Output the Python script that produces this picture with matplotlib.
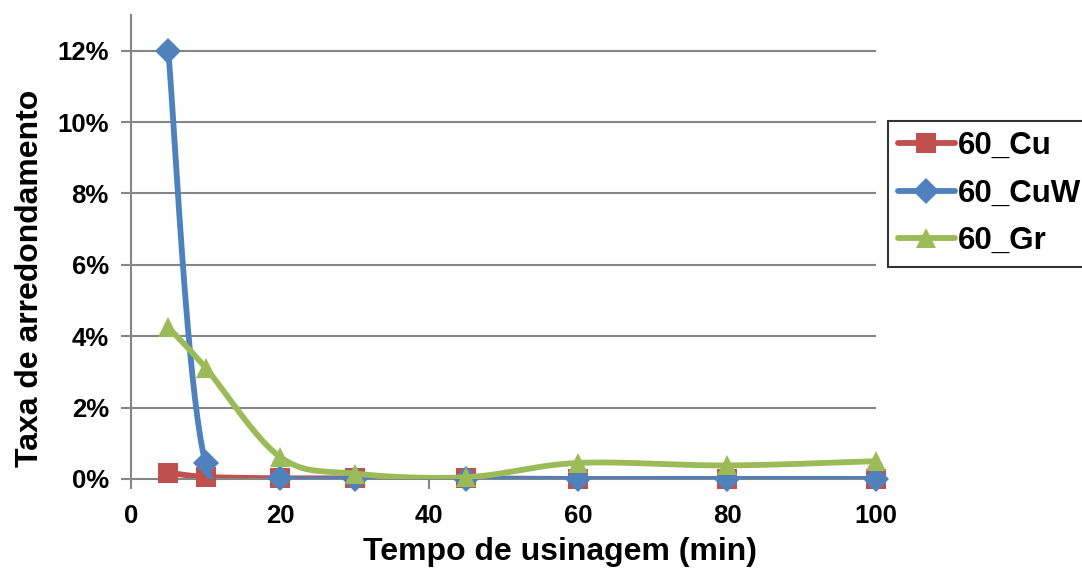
import numpy as np
import matplotlib
matplotlib.use("Agg")
import matplotlib.pyplot as plt
from matplotlib.ticker import FuncFormatter

plt.rcParams['font.family'] = ['Liberation Sans', 'DejaVu Sans']
plt.rcParams['font.weight'] = 'bold'

tempo = [5, 10, 20, 30, 45, 60, 80, 100]
cu = [0.0018, 0.0006, 0.0002, 0.0002, 0.0002, 0.0, 0.0, 0.0]
cuw = [0.120, 0.0045, 0.0002, 0.0, 0.0, 0.0, 0.0, 0.0]
gr = [0.0425, 0.0312, 0.0062, 0.0015, 0.0005, 0.0045, 0.0038, 0.0050]

series = [
    ("60_Cu", cu, "#C0504D", "s", 14),
    ("60_CuW", cuw, "#4F81BD", "D", 13),
    ("60_Gr", gr, "#9BBB59", "^", 15),
]


def smooth(x, y, n=40):
    """Bezier smoothing through all points (cardinal spline, tension 1/6)."""
    p = np.column_stack([x, y]).astype(float)
    ext = np.vstack([p[0], p, p[-1]])
    xs, ys = [], []
    t = np.linspace(0, 1, n)[:, None]
    for i in range(len(p) - 1):
        p0, p1, p2, p3 = ext[i], ext[i + 1], ext[i + 2], ext[i + 3]
        c1 = p1 + (p2 - p0) / 6.0
        c2 = p2 - (p3 - p1) / 6.0
        seg = ((1 - t) ** 3) * p1 + 3 * ((1 - t) ** 2) * t * c1 \
            + 3 * (1 - t) * t ** 2 * c2 + t ** 3 * p2
        xs.append(seg[:, 0])
        ys.append(seg[:, 1])
    return np.concatenate(xs), np.concatenate(ys)


fig = plt.figure(figsize=(10.82, 5.68), dpi=100)
ax = fig.add_axes([131 / 1082, 1 - 479 / 568, (876 - 131) / 1082, (479 - 15) / 568])

grid_c = "#868686"
for v in np.arange(0.02, 0.121, 0.02):
    ax.axhline(v, color=grid_c, lw=1.5, zorder=0)

lw = 4.2
handles = []
for k, (name, vals, col, mk, ms) in enumerate(series):
    sx, sy = smooth(tempo, vals)
    ax.plot(sx, sy, color=col, lw=lw, solid_capstyle='round',
            solid_joinstyle='round', zorder=2 + 2 * k)
    ax.plot(tempo, vals, linestyle='none', marker=mk, color=col, ms=ms,
            markeredgewidth=0, zorder=3 + 2 * k, clip_on=False)
    h, = ax.plot([], [], color=col, lw=lw, marker=mk, ms=ms,
                 markeredgewidth=0, solid_capstyle='round')
    handles.append(h)

ax.set_xlim(0, 100)
ax.set_ylim(0, 0.13)
ax.set_xticks([0, 20, 40, 60, 80, 100])
ax.set_yticks(np.arange(0, 0.121, 0.02))
ax.yaxis.set_major_formatter(FuncFormatter(lambda v, p: f"{v * 100:.0f}%"))

for s in ['top', 'right']:
    ax.spines[s].set_visible(False)
for s in ['left', 'bottom']:
    ax.spines[s].set_color(grid_c)
    ax.spines[s].set_linewidth(1.5)
ax.tick_params(axis='both', direction='out', length=7, width=1.5, color=grid_c,
               labelsize=18.5)
ax.tick_params(axis='x', pad=11)
ax.tick_params(axis='y', pad=9)
for lab in ax.get_xticklabels() + ax.get_yticklabels():
    lab.set_fontweight('bold')

ax.set_xlabel("Tempo de usinagem (min)", fontsize=23, fontweight='bold',
              va='center', ha='center')
ax.xaxis.set_label_coords(0.576, (479 - 552) / 464)
ax.set_ylabel("Taxa de arredondamento", fontsize=23, fontweight='bold',
              va='center', ha='center')
ax.yaxis.set_label_coords((30 - 131) / 745, (479 - 278) / 464)

# Legend sits to the right of the plot; its frame runs past the figure edge
leg = fig.legend(handles, [s[0] for s in series], loc='upper left',
                 bbox_to_anchor=(888 / 1082, 1 - 121 / 568), frameon=True,
                 fancybox=False, edgecolor='black',
                 prop={'weight': 'bold', 'size': 22.5}, handlelength=1.8,
                 handletextpad=0.12, borderpad=0.33, labelspacing=0.56,
                 borderaxespad=0)
leg.get_frame().set_linewidth(1.5)

fig.savefig("out.png", dpi=100)
